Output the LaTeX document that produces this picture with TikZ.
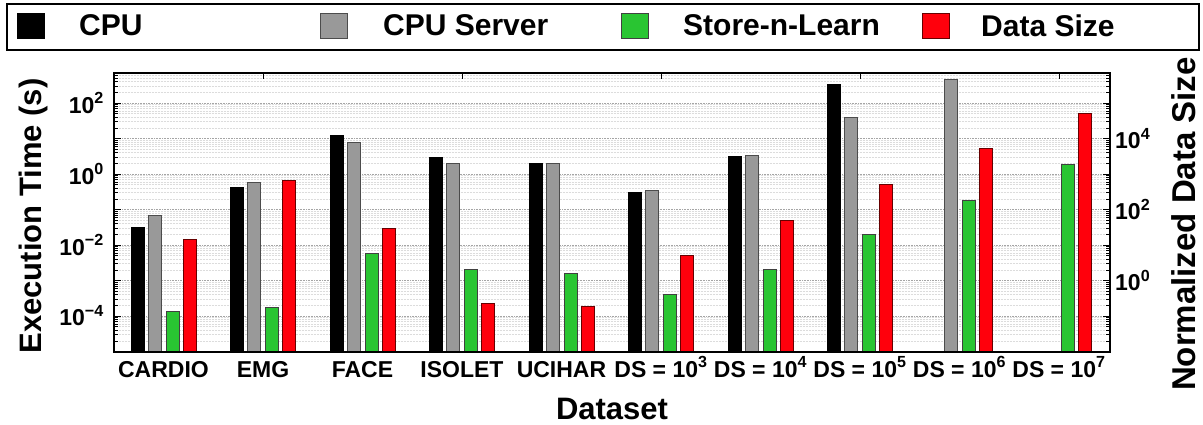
\documentclass[tikz,border=0pt]{standalone}
\usepackage{fontspec}
\setmainfont{Liberation Sans}
\usetikzlibrary{positioning}
\definecolor{mygray}{RGB}{153,153,153}
\definecolor{mygreen}{RGB}{41,197,50}
\definecolor{myred}{RGB}{255,0,12}
\definecolor{mygrid}{RGB}{165,165,165}
\definecolor{myminorgrid}{RGB}{220,220,220}
\newcommand{\tenpow}[1]{10\textsuperscript{#1}}

\begin{document}
\begin{tikzpicture}[x=1pt, y=-1pt,
    every node/.style={inner sep=0pt},
    ticklabel/.style={font=\fontsize{23}{23}\selectfont\bfseries},
    axislabel/.style={font=\fontsize{31}{31}\selectfont\bfseries},
    legendlabel/.style={font=\fontsize{30}{30}\selectfont\bfseries, anchor=west},
    cpubar/.style={fill=black, draw=black, line width=0.8pt},
    serverbar/.style={fill=mygray, draw=black!70, line width=0.8pt},
    snlbar/.style={fill=mygreen, draw=black!75, line width=0.8pt},
    sizebar/.style={fill=myred, draw=black!60!red, line width=0.8pt},
    majorgrid/.style={draw=mygrid, densely dotted, line width=0.6pt},
    minorgrid/.style={draw=myminorgrid, densely dotted, line width=0.5pt}]

\useasboundingbox (0,0) rectangle (1203,425);

% legend
\draw[line width=1.4pt] (7,4) rectangle (1199,50);
\foreach \sx/\tx/\sty/\nm/\txt in {17/79/cpubar/cpu/CPU, 320/383/serverbar/server/CPU Server,
    621/683/snlbar/snl/Store-n-Learn, 922/981/sizebar/size/Data Size}
{
    \path[\sty] (\sx,13) rectangle ++(27,25);
    \node[legendlabel] (leg-\nm) at (\tx,25.5) {\txt};
}

% grid
\begin{scope}
    \clip (114,73) rectangle (1110,352);
    \foreach \d in {-5,...,2}
    {
        \foreach \m in {2,...,9}
            \draw[minorgrid] (114,{174-35.5*(\d+log10(\m))}) -- (1110,{174-35.5*(\d+log10(\m))});
        \draw[majorgrid] (114,{174-35.5*\d}) -- (1110,{174-35.5*\d});
    }
\end{scope}

% bars: log10 of the value on the left axis
\foreach \k/\v in {1/-1.51, 2/-0.39, 3/1.08, 4/0.46, 5/0.30, 6/-0.53, 7/0.50, 8/2.53}
    \path[cpubar] ({163.5+99.5*(\k-1)-32.5},352) rectangle ++(13,{-178-35.5*\v});
\foreach \k/\v in {1/-1.17, 2/-0.245, 3/0.90, 4/0.31, 5/0.30, 6/-0.46, 7/0.52, 8/1.60, 9/2.67}
    \path[serverbar] ({163.5+99.5*(\k-1)-15.5},352) rectangle ++(13,{-178-35.5*\v});
\foreach \k/\v in {1/-3.87, 2/-3.77, 3/-2.23, 4/-2.70, 5/-2.80, 6/-3.39, 7/-2.68, 8/-1.71, 9/-0.73, 10/0.27}
    \path[snlbar] ({163.5+99.5*(\k-1)+2.5},352) rectangle ++(13,{-178-35.5*\v});
\foreach \k/\v in {1/-1.83, 2/-0.17, 3/-1.54, 4/-3.65, 5/-3.73, 6/-2.29, 7/-1.30, 8/-0.29, 9/0.71, 10/1.72}
    \path[sizebar] ({163.5+99.5*(\k-1)+19.5},352) rectangle ++(13,{-178-35.5*\v});

% axes and ticks
\draw[line width=1.6pt] (114,73) rectangle (1110,352);
\foreach \d in {-5,...,2}
{
    \draw[line width=0.6pt] (114,{174-35.5*\d}) -- ++(7,0);
    \draw[line width=0.6pt] (1110,{174-35.5*\d}) -- ++(-7,0);
    \foreach \m in {2,...,9}
    {
        \draw[line width=0.4pt] (114,{max(73,174-35.5*(\d+log10(\m)))}) -- ++(4,0);
        \draw[line width=0.4pt] (1110,{max(73,174-35.5*(\d+log10(\m)))}) -- ++(-4,0);
    }
}
\foreach \k in {2,4,...,10}
    \draw[line width=0.6pt] ({163.5+99.5*(\k-1)},73) -- ++(0,6);

% tick labels
\foreach \d/\lab in {2/2, 0/0, -2/−2, -4/−4}
    \node[ticklabel, anchor=east] (ytick\d) at (104,{174-35.5*\d}) {\tenpow{\lab}};
\foreach \d/\lab in {1/4, -1/2, -3/0}
    \node[ticklabel, anchor=west] (rtick\lab) at (1115,{174-35.5*\d}) {\tenpow{\lab}};
\foreach \k/\lab in {1/CARDIO, 2/EMG, 3/FACE, 4/ISOLET, 5/UCIHAR, 6/DS = \tenpow{3},
    7/DS = \tenpow{4}, 8/DS = \tenpow{5}, 9/DS = \tenpow{6}, 10/DS = \tenpow{7}}
    \node[ticklabel, anchor=base] (xtick\k) at ({163.5+99.5*(\k-1)},377) {\lab};

% axis labels
\node[axislabel, rotate=90, anchor=base] (ylabel) at (41,216) {Execution Time (s)};
\node[axislabel, rotate=90, anchor=base, font=\fontsize{33}{33}\selectfont\bfseries] (rlabel) at (1195,224) {Normalized Data Size};
\node[axislabel, anchor=base] (xlabel) at (612,419) {Dataset};
\end{tikzpicture}
\end{document}
